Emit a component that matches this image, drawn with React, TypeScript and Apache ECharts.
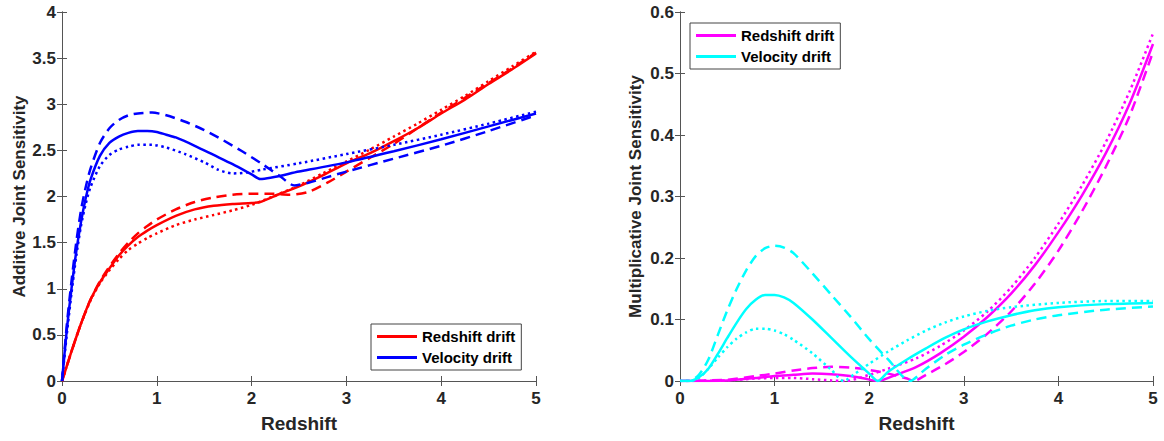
import React, { useEffect, useRef } from "react";
import * as echarts from "echarts";

// ---------- Data (x = redshift, y = sensitivity) ----------
const xTicks = [0, 1, 2, 3, 4, 5];

// Additive joint sensitivity
const addRedSolid = [[0,0],[0.1,0.32],[0.2,0.62],[0.3,0.88],[0.4,1.07],[0.5,1.22],[0.6,1.36],[0.7,1.47],[0.8,1.56],[0.9,1.63],[1.0,1.69],[1.2,1.79],[1.4,1.86],[1.6,1.9],[1.8,1.92],[2.0,1.93],[2.09,1.94],[2.3,2.03],[2.5,2.11],[2.75,2.23],[3.0,2.36],[3.25,2.47],[3.5,2.6],[3.75,2.74],[4.0,2.9],[4.25,3.05],[4.5,3.22],[4.75,3.38],[5.0,3.55]];
const addRedDashed = [[0,0],[0.1,0.32],[0.2,0.62],[0.3,0.88],[0.4,1.08],[0.5,1.24],[0.6,1.38],[0.7,1.5],[0.8,1.6],[0.9,1.68],[1.0,1.75],[1.2,1.86],[1.4,1.94],[1.6,1.99],[1.8,2.02],[2.0,2.03],[2.2,2.03],[2.4,2.02],[2.6,2.05],[2.8,2.15],[3.0,2.27],[3.25,2.42],[3.5,2.57],[3.75,2.74],[4.0,2.91],[4.25,3.07],[4.5,3.23],[4.75,3.39],[5.0,3.56]];
const addRedDotted = [[0,0],[0.1,0.32],[0.2,0.62],[0.3,0.87],[0.4,1.06],[0.5,1.2],[0.6,1.32],[0.7,1.42],[0.8,1.49],[0.9,1.55],[1.0,1.6],[1.2,1.69],[1.4,1.75],[1.6,1.8],[1.8,1.85],[2.0,1.91],[2.2,1.99],[2.5,2.12],[2.75,2.25],[3.0,2.38],[3.25,2.51],[3.5,2.65],[3.75,2.79],[4.0,2.94],[4.25,3.09],[4.5,3.25],[4.75,3.41],[5.0,3.57]];
const addBlueSolid = [[0,0],[0.05,0.55],[0.1,1.0],[0.15,1.4],[0.2,1.72],[0.25,1.98],[0.3,2.18],[0.4,2.44],[0.5,2.58],[0.6,2.65],[0.7,2.69],[0.8,2.71],[0.9,2.71],[1.0,2.7],[1.1,2.67],[1.2,2.64],[1.4,2.55],[1.6,2.45],[1.8,2.35],[2.0,2.24],[2.09,2.19],[2.5,2.27],[3.0,2.37],[3.5,2.49],[4.0,2.62],[4.5,2.76],[5.0,2.9]];
const addBlueDashed = [[0,0],[0.05,0.6],[0.1,1.08],[0.15,1.5],[0.2,1.85],[0.25,2.1],[0.3,2.3],[0.4,2.58],[0.5,2.74],[0.6,2.83],[0.7,2.88],[0.8,2.9],[0.95,2.91],[1.1,2.88],[1.3,2.81],[1.5,2.72],[1.7,2.61],[1.9,2.49],[2.1,2.36],[2.3,2.22],[2.45,2.12],[2.6,2.15],[2.8,2.21],[3.0,2.27],[3.5,2.41],[4.0,2.55],[4.5,2.71],[5.0,2.88]];
const addBlueDotted = [[0,0],[0.05,0.5],[0.1,0.95],[0.15,1.35],[0.2,1.68],[0.25,1.92],[0.3,2.1],[0.4,2.33],[0.5,2.45],[0.6,2.51],[0.7,2.54],[0.8,2.56],[0.95,2.56],[1.1,2.53],[1.3,2.46],[1.5,2.37],[1.65,2.29],[1.8,2.25],[1.95,2.26],[2.1,2.29],[2.5,2.36],[3.0,2.46],[3.5,2.56],[4.0,2.67],[4.5,2.79],[5.0,2.92]];

// Multiplicative joint sensitivity
const mulMagSolid = [[0,0],[0.5,0.001],[0.8,0.005],[1.0,0.008],[1.2,0.01],[1.4,0.012],[1.6,0.011],[1.8,0.008],[1.95,0.004],[2.09,0],[2.3,0.011],[2.5,0.023],[2.75,0.045],[3.0,0.072],[3.25,0.104],[3.5,0.142],[3.75,0.188],[4.0,0.242],[4.25,0.302],[4.5,0.37],[4.75,0.45],[5.0,0.548]];
const mulMagDashed = [[0,0],[0.5,0.002],[0.8,0.008],[1.0,0.012],[1.2,0.017],[1.4,0.021],[1.6,0.023],[1.8,0.022],[2.0,0.018],[2.2,0.012],[2.4,0.004],[2.47,0],[2.6,0.01],[2.8,0.027],[3.0,0.047],[3.25,0.077],[3.5,0.113],[3.75,0.158],[4.0,0.212],[4.25,0.276],[4.5,0.348],[4.75,0.43],[5.0,0.535]];
const mulMagDotted = [[0,0],[0.5,0.001],[0.8,0.004],[1.0,0.005],[1.2,0.005],[1.4,0.003],[1.6,0.001],[1.75,0],[2.0,0.01],[2.2,0.02],[2.5,0.037],[2.75,0.057],[3.0,0.082],[3.25,0.113],[3.5,0.152],[3.75,0.2],[4.0,0.256],[4.25,0.318],[4.5,0.388],[4.75,0.47],[5.0,0.565]];
const mulCyanSolid = [[0,0],[0.1,0],[0.2,0.006],[0.3,0.02],[0.4,0.044],[0.5,0.07],[0.6,0.095],[0.7,0.117],[0.8,0.132],[0.9,0.14],[1.0,0.14],[1.1,0.136],[1.2,0.127],[1.4,0.1],[1.6,0.07],[1.8,0.04],[2.0,0.012],[2.09,0],[2.2,0.015],[2.4,0.035],[2.6,0.053],[2.8,0.07],[3.0,0.084],[3.25,0.097],[3.5,0.107],[3.75,0.115],[4.0,0.12],[4.5,0.125],[5.0,0.127]];
const mulCyanDashed = [[0,0],[0.1,0],[0.2,0.01],[0.3,0.035],[0.4,0.075],[0.5,0.115],[0.6,0.15],[0.7,0.18],[0.8,0.203],[0.9,0.216],[1.0,0.22],[1.1,0.217],[1.2,0.208],[1.4,0.175],[1.6,0.14],[1.8,0.105],[2.0,0.068],[2.2,0.035],[2.43,0],[2.6,0.02],[2.8,0.042],[3.0,0.059],[3.25,0.076],[3.5,0.09],[3.75,0.1],[4.0,0.107],[4.5,0.116],[5.0,0.121]];
const mulCyanDotted = [[0,0],[0.1,0],[0.2,0.005],[0.3,0.02],[0.4,0.038],[0.5,0.055],[0.6,0.069],[0.7,0.079],[0.8,0.085],[0.9,0.085],[1.0,0.082],[1.1,0.076],[1.2,0.067],[1.4,0.045],[1.6,0.018],[1.73,0],[1.85,0.012],[2.0,0.028],[2.2,0.048],[2.4,0.066],[2.6,0.082],[2.8,0.095],[3.0,0.105],[3.25,0.114],[3.5,0.12],[4.0,0.127],[4.5,0.13],[5.0,0.13]];

const legendNames = ["Redshift drift", "Velocity drift"];

// ---------- Styling ----------
const FONT = "'Liberation Sans', Arial, sans-serif";
const AXIS_COLOR = "#555555";
const TEXT_COLOR = "#262626";
const LW = 2.5;
const DASH = [10, 6];
const DOT = [2.5, 3.5];

function lineSeries(name: string, data: number[][], color: string, dash: any, gi: number) {
  return {
    type: "line",
    name,
    data,
    xAxisIndex: gi * 2,
    yAxisIndex: gi * 2,
    symbol: "none",
    showSymbol: false,
    smooth: 0.25,
    lineStyle: { color, width: LW, type: dash, cap: "butt" },
    itemStyle: { color },
  };
}

function xAxes(gi: number) {
  return [
    {
      type: "value",
      gridIndex: gi,
      min: xTicks[0],
      max: xTicks[xTicks.length - 1],
      interval: 1,
      name: "Redshift",
      nameLocation: "middle",
      nameGap: 33,
      nameTextStyle: { fontFamily: FONT, fontWeight: "bold", fontSize: 19, color: TEXT_COLOR },
      axisLine: { show: true, lineStyle: { color: AXIS_COLOR, width: 1 } },
      axisTick: { show: true, inside: true, length: 5, lineStyle: { color: AXIS_COLOR } },
      axisLabel: { fontFamily: FONT, fontWeight: "bold", fontSize: 17, color: TEXT_COLOR, margin: 9 },
      splitLine: { show: false },
    },
    {
      type: "value",
      gridIndex: gi,
      position: "top",
      min: xTicks[0],
      max: xTicks[xTicks.length - 1],
      interval: 1,
      axisLine: { show: true, lineStyle: { color: AXIS_COLOR, width: 1 } },
      axisTick: { show: true, inside: true, length: 5, lineStyle: { color: AXIS_COLOR } },
      axisLabel: { show: false },
      splitLine: { show: false },
    },
  ];
}

function yAxes(gi: number, max: number, interval: number, name: string, nameGap: number) {
  return [
    {
      type: "value",
      gridIndex: gi,
      min: 0,
      max,
      interval,
      name,
      nameLocation: "middle",
      nameGap,
      nameTextStyle: { fontFamily: FONT, fontWeight: "bold", fontSize: 17, color: TEXT_COLOR },
      axisLine: { show: true, lineStyle: { color: AXIS_COLOR, width: 1 } },
      axisTick: { show: true, inside: true, length: 5, lineStyle: { color: AXIS_COLOR } },
      axisLabel: { fontFamily: FONT, fontWeight: "bold", fontSize: 17, color: TEXT_COLOR, margin: 6 },
      splitLine: { show: false },
    },
    {
      type: "value",
      gridIndex: gi,
      position: "right",
      min: 0,
      max,
      interval,
      axisLine: { show: true, lineStyle: { color: AXIS_COLOR, width: 1 } },
      axisTick: { show: true, inside: true, length: 5, lineStyle: { color: AXIS_COLOR } },
      axisLabel: { show: false },
      splitLine: { show: false },
    },
  ];
}

const MUL = " (multiplicative)";

function legend(left: number, top: number, names: string[]) {
  return {
    show: true,
    orient: "vertical",
    left,
    top,
    data: names.map((n) => ({ name: n, icon: "rect" })),
    padding: [5, 6, 5, 6],
    itemGap: 6,
    itemWidth: 40,
    itemHeight: 3,
    backgroundColor: "#ffffff",
    borderColor: "#444444",
    borderWidth: 1,
    borderRadius: 0,
    selectedMode: false,
    formatter: (n: string) => n.replace(MUL, ""),
    textStyle: { fontFamily: FONT, fontWeight: "bold", fontSize: 15, color: "#000000", lineHeight: 15 },
  };
}

export default function App() {
  const ref = useRef<HTMLDivElement>(null);

  useEffect(() => {
    if (!ref.current) return;
    const chart = echarts.init(ref.current, null, { renderer: "svg" });
    const option: any = {
      animation: false,
      backgroundColor: "#ffffff",
      grid: [
        { left: 62, top: 12, width: 474, height: 369 },
        { left: 680, top: 12, width: 473, height: 369 },
      ],
      xAxis: [...xAxes(0), ...xAxes(1)],
      yAxis: [
        ...yAxes(0, 4, 0.5, "Additive Joint Sensitivity", 34),
        ...yAxes(1, 0.6, 0.1, "Multiplicative Joint Sensitivity", 36),
      ],
      legend: [
        legend(371, 324, [legendNames[0], legendNames[1]]),
        legend(690, 23, [legendNames[0] + MUL, legendNames[1] + MUL]),
      ],
      series: [
        lineSeries(legendNames[0], addRedSolid, "#ff0000", "solid", 0),
        lineSeries("Redshift drift dashed", addRedDashed, "#ff0000", DASH, 0),
        lineSeries("Redshift drift dotted", addRedDotted, "#ff0000", DOT, 0),
        lineSeries(legendNames[1], addBlueSolid, "#0000ff", "solid", 0),
        lineSeries("Velocity drift dashed", addBlueDashed, "#0000ff", DASH, 0),
        lineSeries("Velocity drift dotted", addBlueDotted, "#0000ff", DOT, 0),
        lineSeries(legendNames[0] + MUL, mulMagSolid, "#ff00ff", "solid", 1),
        lineSeries("Redshift drift dashed m", mulMagDashed, "#ff00ff", DASH, 1),
        lineSeries("Redshift drift dotted m", mulMagDotted, "#ff00ff", DOT, 1),
        lineSeries(legendNames[1] + MUL, mulCyanSolid, "#00ffff", "solid", 1),
        lineSeries("Velocity drift dashed m", mulCyanDashed, "#00ffff", DASH, 1),
        lineSeries("Velocity drift dotted m", mulCyanDotted, "#00ffff", DOT, 1),
      ],
    };
    chart.setOption(option);
    return () => chart.dispose();
  }, []);

  return (
    <div
      ref={ref}
      style={{ position: "fixed", left: 0, top: 0, width: 1164, height: 441, background: "#fff" }}
    />
  );
}
